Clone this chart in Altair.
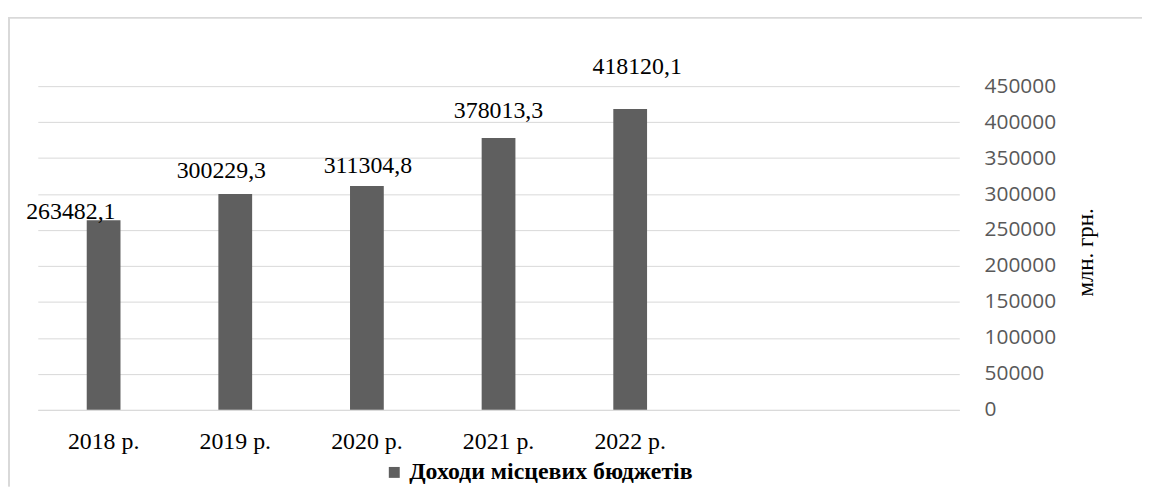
import altair as alt
import pandas as pd

years = ["2018 р.", "2019 р.", "2020 р.", "2021 р.", "2022 р."]
values = [263482.1, 300229.3, 311304.8, 378013.3, 418120.1]
empty_slots = ["_e1", "_e2"]
series_name = "Доходи місцевих бюджетів"
y_ticks = [0, 50000, 100000, 150000, 200000, 250000, 300000, 350000, 400000, 450000]
y_title = "млн. грн."

# label nudges (style): (dx, dy) in pixels from the bar top centre
label_nudge = {
    "2018 р.": (-33, -8),
    "2019 р.": (-14, -23),
    "2020 р.": (1, -20),
    "2021 р.": (0, -27),
    "2022 р.": (7, -42),
}

df = pd.DataFrame({"year": years, "value": values, "series": [series_name] * len(years)})

W, H = 928, 326
PAD_L, PAD_T = 30, 77
TOTAL_W, TOTAL_H = 1142, 480

serif = "Liberation Serif"
x_scale = alt.Scale(domain=years + empty_slots, paddingInner=0, paddingOuter=0)
y_scale = alt.Scale(domain=[0, 450000], nice=False)

x_enc = alt.X(
    "year:N",
    scale=x_scale,
    axis=alt.Axis(
        title=None,
        labelAngle=0,
        ticks=False,
        domainColor="#d9d9d9",
        domainWidth=1,
        labelFont=serif,
        labelFontSize=24,
        labelColor="#000000",
        labelPadding=20,
        grid=False,
        labelExpr="indexof(datum.value, '_e') == 0 ? '' : datum.label",
    ),
)

y_enc = alt.Y(
    "value:Q",
    scale=y_scale,
    axis=alt.Axis(
        orient="right",
        values=y_ticks,
        format="d",
        title=y_title,
        titleFont=serif,
        titleFontSize=23,
        titleFontWeight="normal",
        titleColor="#000000",
        titleAngle=270,
        titleX=127,
        titleY=167,
        titleAlign="center",
        titleBaseline="middle",
        domain=False,
        ticks=False,
        labelOverlap=False,
        labelFont="Open Sans",
        labelFontSize=21,
        labelColor="#595959",
        labelPadding=25,
        gridColor="#d9d9d9",
        gridWidth=1,
    ),
)

base = alt.Chart(df).encode(x=x_enc, y=y_enc)

bars = base.mark_bar(size=34).encode(
    color=alt.Color(
        "series:N",
        scale=alt.Scale(domain=[series_name], range=["#5f5f5f"]),
        legend=alt.Legend(
            title=None,
            orient="none",
            legendX=377 - PAD_L,
            legendY=454 - PAD_T,
            padding=0,
            symbolType="square",
            symbolSize=121,
            symbolStrokeWidth=0,
            labelFont=serif,
            labelFontSize=24,
            labelFontWeight="bold",
            labelColor="#000000",
            labelOffset=3,
            labelLimit=0,
        ),
    ),
)

text_layers = []
for yr in years:
    dx, dy = label_nudge[yr]
    t = (
        base.transform_filter(alt.datum.year == yr)
        .transform_calculate(lab="replace(format(datum.value, '.1f'), '.', ',')")
        .mark_text(font=serif, fontSize=24, color="#000000", baseline="middle", align="center", dx=dx, dy=dy)
        .encode(text="lab:N")
    )
    text_layers.append(t)

border_top = alt.Chart(df).mark_rule(color="#d9d9d9", strokeWidth=1.5).encode(
    x=alt.value(-PAD_L), x2=alt.value(TOTAL_W - PAD_L), y=alt.value(8 - PAD_T)
)
border_left = alt.Chart(df).mark_rule(color="#d9d9d9", strokeWidth=1.5).encode(
    x=alt.value(1 - PAD_L), y=alt.value(8 - PAD_T), y2=alt.value(TOTAL_H - PAD_T)
)

chart = (
    alt.layer(bars, *text_layers, border_top, border_left)
    .properties(
        width=W,
        height=H,
        background="#ffffff",
        autosize=alt.AutoSizeParams(type="none"),
        padding={"left": PAD_L, "top": PAD_T, "right": TOTAL_W - PAD_L - W, "bottom": TOTAL_H - PAD_T - H},
    )
    .configure_view(strokeWidth=0, stroke="transparent")
)

chart.save("out.html", embed_options={"renderer": "svg", "actions": False})
